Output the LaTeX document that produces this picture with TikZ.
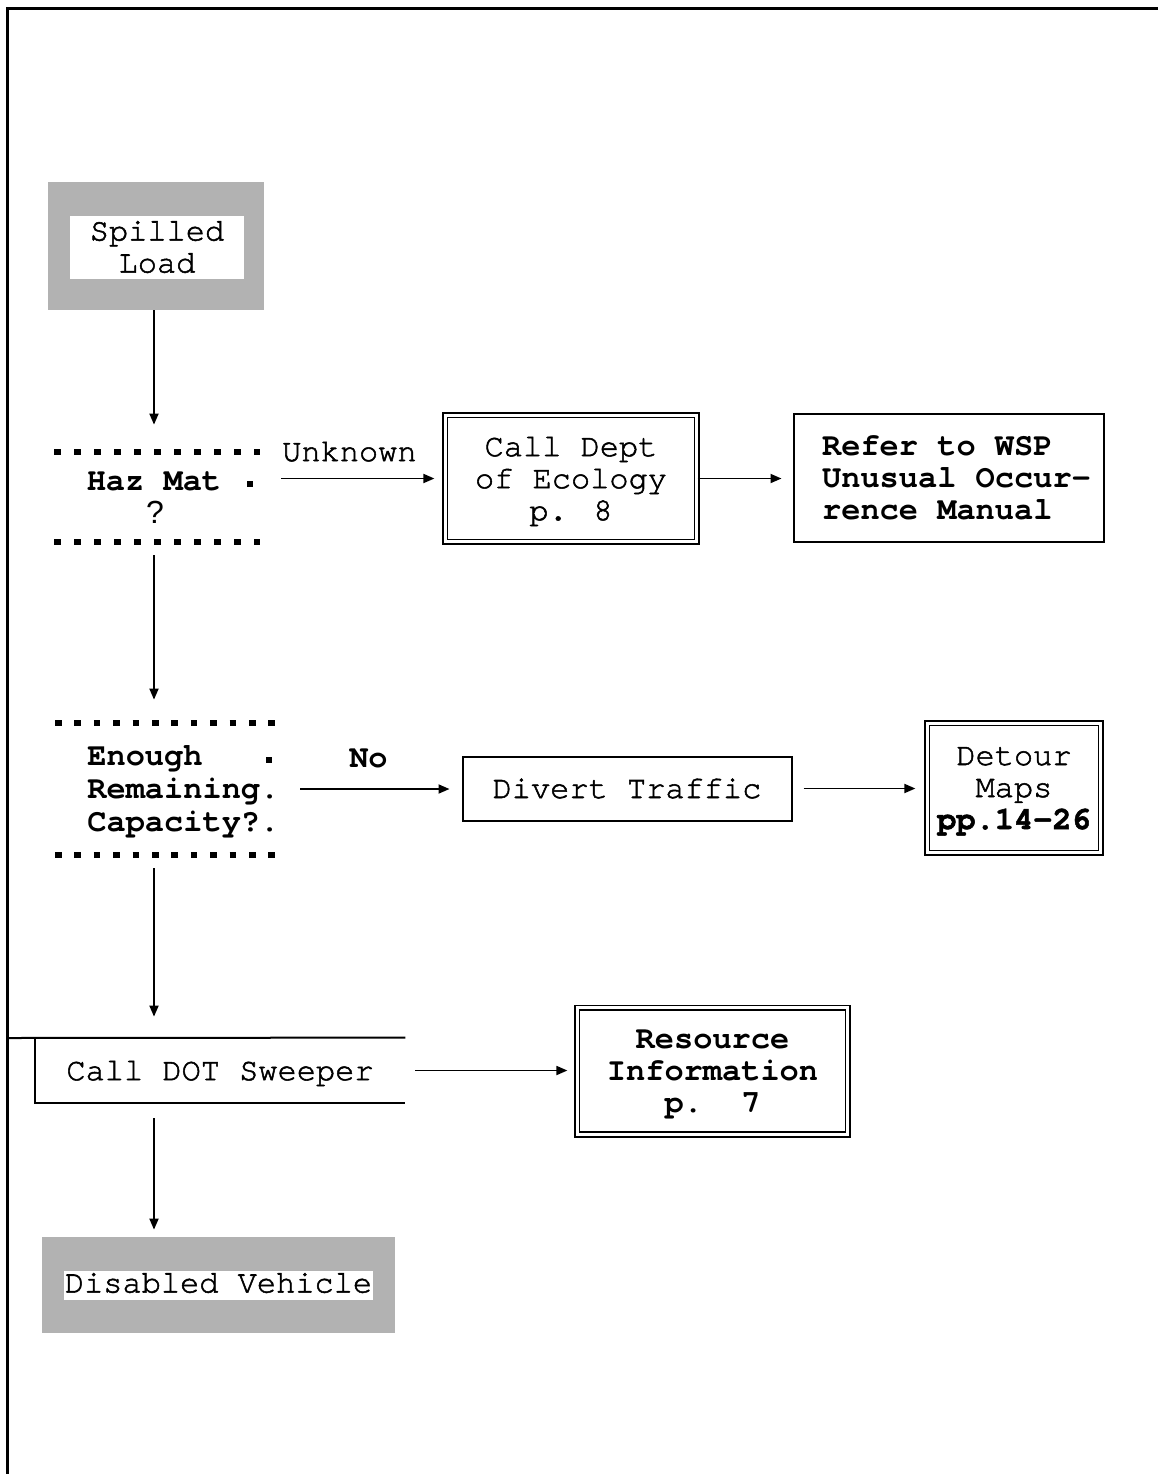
\documentclass[tikz,border=0pt]{standalone}
\usepackage{fontspec}
\setmainfont{TeX Gyre Cursor}[Ligatures=NoCommon]
\newfontfamily\medtt{TeX Gyre Cursor}[Ligatures=NoCommon, FakeBold=1.6]
\newfontfamily\qmark{Liberation Sans}
\usetikzlibrary{arrows.meta}

\begin{document}
\begin{tikzpicture}[x=0.5pt,y=-0.5pt,
    txt/.style={font=\fontsize{16}{16}\selectfont\medtt, align=center, inner sep=0pt},
    btxt/.style={txt, font=\fontsize{16}{16}\selectfont\bfseries},
    box/.style={txt, draw, line width=1pt},
    dbox/.style={txt, draw, line width=0.8pt, double, double distance=1.6pt, text depth=0pt},
    shade/.style={fill=gray!60, draw=none, inner sep=0pt},
    dotrow/.style={line width=3pt, dash pattern=on 3.3pt off 6.7pt},
    dotrowb/.style={line width=3pt, dash pattern=on 3.3pt off 6.4pt},
    arr/.style={-{Triangle[length=5.5pt,width=4.5pt]}, line width=0.9pt}]
    \useasboundingbox (0,0) rectangle (1158,1474);

    % page frame
    \draw[line width=1.5pt] (7,1474) -- (7,8) -- (1158,8);

    % start
    \node[shade, minimum width=108pt, minimum height=64pt] (spillbg) at (156,246) {};
    \node[txt, fill=white, minimum width=87pt, minimum height=31.5pt] (spill) at (157,247) {Spilled\\Load};

    % first question
    \node[minimum width=100pt, minimum height=45pt, inner sep=0pt] (hazdec) at (154,497) {};
    \draw[dotrow] (54,452) -- (260,452);
    \draw[dotrow] (54,542) -- (260,542);
    \fill (247,481) rectangle (253,487);
    \node[btxt] (haz) at (154,481) {Haz Mat};
    \node[txt, font=\fontsize{16}{16}\qmark] (hazq) at (155,512) {?};

    \node[dbox, minimum width=125.8pt, minimum height=63.3pt] (eco) at (571,478.5) {Call Dept\\of Ecology\\p. 8};
    \node[box, align=left, minimum width=155pt, minimum height=64pt, text depth=0pt,
        font=\fontsize{16}{16}\selectfont\bfseries] (wsp) at (948.5,477.5)
        {\hspace*{8pt}Refer to WSP\\\hspace*{8pt}Unusual Occur-\\\hspace*{8pt}rence Manual};

    % second question
    \node[minimum width=110pt, minimum height=66pt, inner sep=0pt] (capdec) at (165,789) {};
    \draw[dotrowb] (55,723) -- (275,723);
    \draw[dotrowb] (55,855) -- (275,855);
    \fill (266,757) rectangle (272,763);
    \node[btxt, align=left, anchor=west, font=\fontsize{16}{16.5}\selectfont\bfseries] (cap) at (87,792) {Enough\\Remaining.\\Capacity?.};

    \node[box, minimum width=164.5pt, minimum height=32pt] (div) at (627,788.5) {Divert Traffic};
    \node[dbox, minimum width=86.8pt, minimum height=64.8pt] (det) at (1014,788) {Detour\\Maps\\\textbf{pp.14-26}};

    % sweeper
    \node[txt, minimum width=185pt, minimum height=32.5pt, text depth=0pt] (sweep) at (220,1070.5) {Call DOT Sweeper};
    \draw[line width=1pt] (7,1038) -- (sweep.north east);
    \draw[line width=1pt] (sweep.north west) -- (sweep.south west) -- (sweep.south east);
    \node[dbox, minimum width=135.3pt, minimum height=63.3pt, font=\fontsize{16}{16}\selectfont\bfseries] (res) at (712.5,1071) {Resource\\Information\\p.\ \ 7};

    % end
    \node[shade, minimum width=176.5pt, minimum height=48pt] (disbg) at (218.5,1285) {};
    \node[txt, fill=white, text height=11pt, text depth=3.5pt, inner xsep=0.5pt] (dis) at (218.5,1285) {Disabled Vehicle};

    % connectors
    \draw[arr, shorten >=13.5pt] (spillbg.south -| hazdec.south) -- (hazdec.north);
    \draw[arr, shorten <=6.5pt, shorten >=11.5pt] (hazdec.south) -- (hazdec.south |- capdec.north);
    \draw[arr, shorten <=6.5pt, shorten >=10.5pt] (hazdec.south |- capdec.south) -- (hazdec.south |- sweep.north);
    \draw[arr, shorten <=7.5pt, shorten >=3.5pt] (hazdec.south |- sweep.south) -- (hazdec.south |- disbg.north);

    \draw[arr, shorten <=13.5pt, shorten >=5pt] (hazdec.east |- eco.west) -- (eco.west)
        node[txt, midway, above=8pt] (unk) {Unknown};
    \draw[arr, shorten >=5.5pt] (eco.east) -- (eco.east -| wsp.west);
    \draw[arr, shorten <=12.5pt, shorten >=6pt] (capdec.east) -- (capdec.east -| div.west)
        node[btxt, midway, above=10pt] (no) {No};
    \draw[arr, shorten <=5.5pt, shorten >=5.5pt] (div.east) -- (div.east -| det.west);
    \draw[arr, shorten <=5pt, shorten >=4.5pt] (sweep.east) -- (sweep.east -| res.west);
\end{tikzpicture}
\end{document}
